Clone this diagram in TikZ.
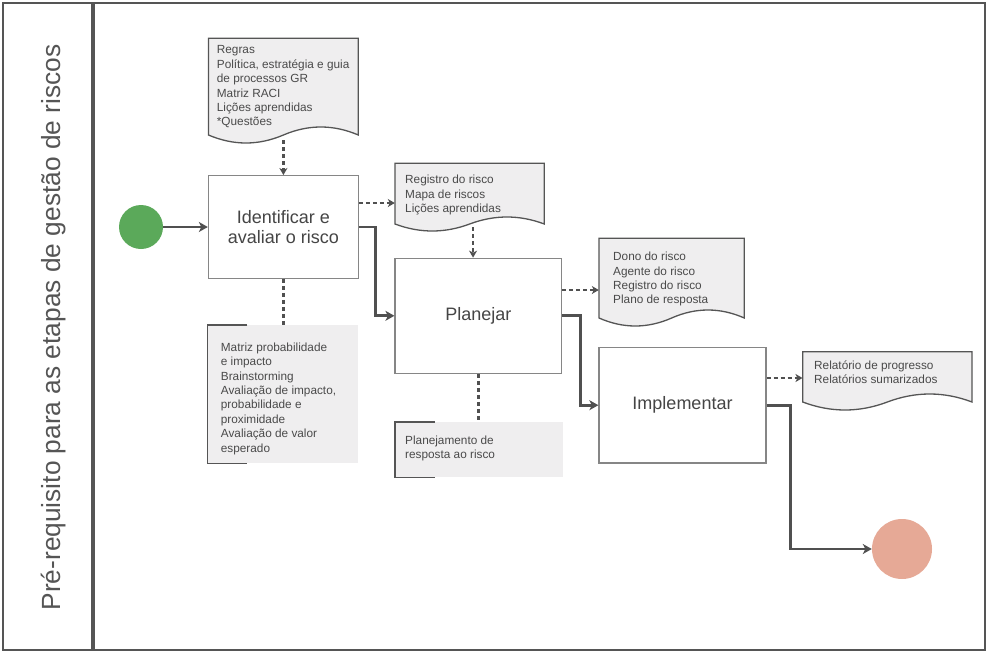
\documentclass[tikz,border=0pt]{standalone}
\usepackage{fontspec}
\setmainfont{Liberation Sans}
\usetikzlibrary{arrows.meta,calc}

\definecolor{framec}{HTML}{555555}
\definecolor{boxline}{HTML}{868686}
\definecolor{conn}{HTML}{505050}
\definecolor{docfill}{HTML}{EFEEEF}
\definecolor{txt}{HTML}{4A4A4A}
\definecolor{lbl}{HTML}{454545}
\definecolor{startc}{HTML}{5BA95A}
\definecolor{endc}{HTML}{E6A996}

% document shape: name, x1, x2, top, bottom line, wave amplitude
\newcommand\docshape[6]{%
  \pgfmathsetmacro\dw{#3-#2}%
  \pgfmathsetmacro\dm{(#2+#3)/2}%
  \pgfmathsetmacro\dmid{(#4+#5)/2}%
  \pgfmathsetmacro\dh{#5-#4}%
  \pgfmathsetmacro\dcu{#5-4*#6/3}%
  \pgfmathsetmacro\dcd{#5+4*#6/3}%
  \draw[docline] (#2,#4) -- (#3,#4) -- (#3,#5)
     .. controls ({#3-\dw/6},\dcu) and ({#3-\dw/3},\dcu) .. (\dm,#5)
     .. controls ({\dm-\dw/6},\dcd) and ({\dm-\dw/3},\dcd) .. (#2,#5) -- cycle;
  \node[inner sep=0pt, minimum width=\dw pt, minimum height=\dh pt] (#1) at (\dm,\dmid) {};
}

\begin{document}
\begin{tikzpicture}[x=1pt,y=-1pt,
  docline/.style={draw=framec, line width=1.3pt, fill=docfill},
  stepbox/.style={draw=boxline, line width=1.3pt, fill=white, inner sep=0pt,
     font=\fontsize{18}{20.5}\selectfont, text=lbl, align=center},
  doctext/.style={inner sep=0pt, anchor=north west, align=left,
     font=\fontsize{11.8}{14.4}\selectfont, text=txt},
  notebox/.style={fill=docfill, inner sep=0pt},
  bracket/.style={draw=framec, line width=1.4pt},
  flow/.style={draw=conn, line width=2.8pt, -{Stealth[length=9pt,width=10pt,inset=2.5pt]}},
  dflow/.style={draw=conn, line width=2.2pt, dash pattern=on 4pt off 3pt,
     -{Stealth[length=7pt,width=8pt,inset=2pt]}},
  dline/.style={draw=conn, line width=2.2pt, dash pattern=on 4pt off 3pt},
]
\useasboundingbox (0,0) rectangle (987,653);

% pool and lane
\draw[framec, line width=2.2pt] (3,3) rectangle (985,650);
\draw[framec, line width=4pt] (93,3) -- (93,650);
\node[rotate=90, anchor=base, inner sep=0pt, text=framec,
      font=\fontsize{26.3}{30}\selectfont] (lane) at (60,327.5)
  {Pré-requisito para as etapas de gestão de riscos};

% events
\node[circle, fill=startc, minimum size=44pt, inner sep=0pt] (start) at (141,227) {};
\node[circle, fill=endc, minimum size=60pt, inner sep=0pt] (end) at (902,549) {};

% tasks
\node[stepbox, minimum width=149.8pt, minimum height=102.6pt] (id) at (283.4,227)
  {Identificar e\\avaliar o risco};
\node[stepbox, minimum width=166.7pt, minimum height=115pt] (plan) at (478.4,315.8)
  {Planejar};
\node[stepbox, minimum width=167pt, minimum height=115.7pt] (impl) at (682.5,405.2)
  {Implementar};

% documents
\docshape{doc1}{208.5}{358.3}{38.3}{135}{8}
\node[doctext] (doc1t) at (216.7,45.5)
  {Regras\\Política, estratégia e guia\\de processos GR\\Matriz RACI\\Lições aprendidas\\*Questões};

\docshape{doc2}{395}{544.3}{163.3}{224}{7}
\node[doctext] (doc2t) at (405,175)
  {Registro do risco\\Mapa de riscos\\Lições aprendidas};

\docshape{doc3}{599}{744.3}{238.3}{318}{8}
\node[doctext] (doc3t) at (613,252)
  {Dono do risco\\Agente do risco\\Registro do risco\\Plano de resposta};

\docshape{doc4}{802.7}{972}{351.7}{402}{8}
\node[doctext] (doc4t) at (814,360.5)
  {Relatório de progresso\\Relatórios sumarizados};

% annotations
\node[notebox, minimum width=150.5pt, minimum height=138pt] (ann1) at (282.75,394) {};
\draw[bracket] ([xshift=40pt]ann1.north west) -- (ann1.north west)
  -- (ann1.south west) -- ([xshift=40pt]ann1.south west);
\node[doctext] (ann1t) at (220.7,342.5)
  {Matriz probabilidade\\e impacto\\Brainstorming\\Avaliação de impacto,\\probabilidade e\\proximidade\\Avaliação de valor\\esperado};

\node[notebox, minimum width=168pt, minimum height=55pt] (ann2) at (479,449.5) {};
\draw[bracket] ([xshift=40pt]ann2.north west) -- (ann2.north west)
  -- (ann2.south west) -- ([xshift=40pt]ann2.south west);
\node[doctext] (ann2t) at (405,435.5)
  {Planejamento de\\resposta ao risco};

% sequence flows
\draw[flow] (start.east) -- (id.west);
\draw[flow] (id.east) -- ++(16.7,0) |- (plan.west);
\draw[flow] (plan.east) -- ++(18.3,0) |- (impl.west);
\draw[flow] (impl.east) -- ++(23.5,0) |- (end.west);

% data associations
\coordinate (d1) at ([yshift=24pt]id.east);
\coordinate (d2) at ([xshift=3.4pt]doc2.south);
\coordinate (d3) at ([yshift=25.8pt]plan.east);
\coordinate (d4) at ([yshift=27.2pt]impl.east);
\draw[dflow] ([yshift=-5pt]doc1.south) -- (id.north);
\draw[dflow] (d1) -- (d1 -| doc2.west);
\draw[dflow] ([yshift=-3pt]d2) -- (d2 |- plan.north);
\draw[dflow] (d3) -- (d3 -| doc3.west);
\draw[dflow] (d4) -- (d4 -| doc4.west);

% annotation links
\draw[dline] (id.south) -- (id.south |- ann1.north);
\draw[dline] (plan.south) -- (plan.south |- ann2.north);
\end{tikzpicture}
\end{document}
